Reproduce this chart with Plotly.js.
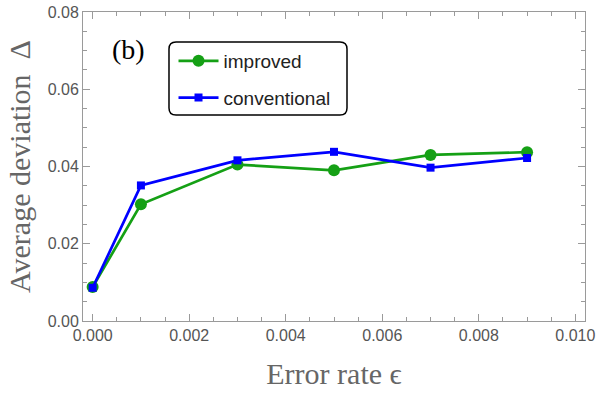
<!DOCTYPE html>
<html>
<head>
<meta charset="utf-8">
<script src="https://cdn.plot.ly/plotly-3.0.1.min.js"></script>
<style>
  html, body { margin: 0; padding: 0; background: #fff; }
  #chart { width: 600px; height: 394px; }
</style>
</head>
<body>
<div id="chart"></div>
<script>
// error rates (x) and average deviations
const errorRate = [0, 0.001, 0.003, 0.005, 0.007, 0.009];
const improvedDev = [0.0088, 0.0302, 0.0405, 0.0390, 0.0430, 0.0437];
const conventionalDev = [0.0086, 0.0351, 0.0416, 0.0438, 0.0397, 0.0422];

const axisGrey = "#9a9a9a";
const labelGrey = "#555555";

const traces = [
    {
        x: errorRate, y: improvedDev,
        type: "scatter", mode: "lines+markers",
        name: "improved", legendgroup: "a",
        line: { color: "#15a015", width: 2.7 },
        marker: { color: "#15a015", symbol: "circle", size: 12 }
    },
    {
        x: errorRate, y: conventionalDev,
        type: "scatter", mode: "lines+markers",
        name: "conventional", legendgroup: "b",
        line: { color: "#0000ff", width: 2.7 },
        marker: { color: "#0000ff", symbol: "square", size: 8 }
    }
];

// rounded legend frame, in paper coords
const bx0 = 0.1713, bx1 = 0.5259, by0 = 0.6667, by1 = 0.9029;
const rx = 0.014, ry = 0.023;
const boxPath =
    `M${bx0 + rx},${by1} L${bx1 - rx},${by1} Q${bx1},${by1} ${bx1},${by1 - ry} ` +
    `L${bx1},${by0 + ry} Q${bx1},${by0} ${bx1 - rx},${by0} ` +
    `L${bx0 + rx},${by0} Q${bx0},${by0} ${bx0},${by0 + ry} ` +
    `L${bx0},${by1 - ry} Q${bx0},${by1} ${bx0 + rx},${by1} Z`;

const layout = {
    width: 600, height: 394,
    margin: { l: 83, r: 15, t: 12, b: 73 },
    paper_bgcolor: "#fff", plot_bgcolor: "#fff",
    font: { family: "Liberation Sans, Arial, sans-serif", color: labelGrey },
    xaxis: {
        range: [-0.0002, 0.0102],
        dtick: 0.002, tick0: 0, tickformat: ".3f",
        ticks: "inside", ticklen: 7, tickcolor: axisGrey, tickwidth: 1,
        minor: { dtick: 0.0005, ticks: "inside", ticklen: 4, tickcolor: axisGrey },
        showline: true, linecolor: axisGrey, linewidth: 1, mirror: "allticks",
        showgrid: false, zeroline: false,
        tickfont: { size: 16, color: labelGrey },
        title: { text: "Error rate ϵ", standoff: 19,
                 font: { family: "Liberation Serif, Times New Roman, serif", size: 30, color: "#666" } }
    },
    yaxis: {
        range: [0, 0.08],
        dtick: 0.02, tick0: 0, tickformat: ".2f",
        ticks: "inside", ticklen: 7, tickcolor: axisGrey, tickwidth: 1,
        minor: { dtick: 0.005, ticks: "inside", ticklen: 4, tickcolor: axisGrey },
        showline: true, linecolor: axisGrey, linewidth: 1, mirror: "allticks",
        showgrid: false, zeroline: false,
        tickfont: { size: 16, color: labelGrey },
        title: { text: "Average deviation  Δ", standoff: 8,
                 font: { family: "Liberation Serif, Times New Roman, serif", size: 30, color: "#666" } }
    },
    showlegend: true,
    legend: {
        x: bx0 + 0.009, y: by1 + 0.0, xanchor: "left", yanchor: "top",
        bgcolor: "rgba(0,0,0,0)", borderwidth: 0,
        tracegroupgap: 9, itemwidth: 40,
        font: { size: 19, color: "#222" }
    },
    shapes: [
        { type: "path", xref: "paper", yref: "paper", path: boxPath,
          line: { color: "#000", width: 1.5 }, fillcolor: "rgba(255,255,255,1)", layer: "below" }
    ],
    annotations: [
        { text: "(b)", xref: "paper", yref: "paper", x: 0.091, y: 0.878,
          xanchor: "center", yanchor: "middle", showarrow: false,
          font: { family: "Liberation Serif, Times New Roman, serif", size: 28, color: "#000" } }
    ]
};

Plotly.newPlot("chart", traces, layout, { displayModeBar: false, staticPlot: true });
</script>
</body>
</html>
